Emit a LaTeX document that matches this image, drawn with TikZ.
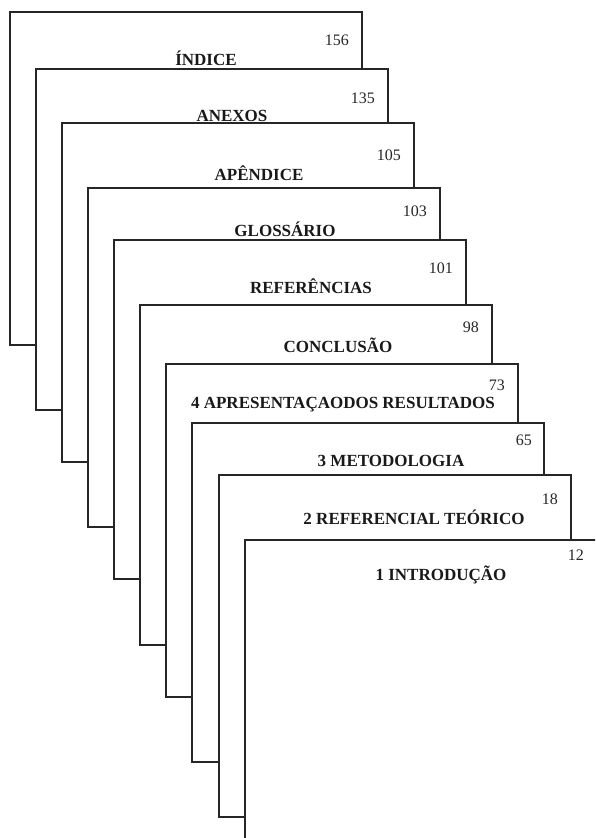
\documentclass[tikz,border=0pt]{standalone}
\usepackage{fontspec}
\setmainfont{Liberation Serif}
\begin{document}
\begin{tikzpicture}[x=1pt,y=-1pt,
  pagebox/.style={draw=black!85, line width=1.2pt, fill=white, anchor=north west,
    inner sep=0pt, outer sep=0pt, minimum width=352pt},
  title/.style={font=\bfseries\fontsize{17}{17}\selectfont, anchor=base, inner sep=0pt, text=black!90},
  pnum/.style={font=\fontsize{16}{16}\selectfont, anchor=base east, inner sep=0pt, text=black!85}]
\clip (0,0) rectangle (595,838);
\fill[white] (0,0) rectangle (595,838);
% page 1
\node[pagebox, minimum height=333pt] (p1) at (10,12) {};
\node[title] (t1) at (206,65) {ÍNDICE};
\node[pnum] (n1) at (349,45) {156};
% page 2
\node[pagebox, minimum height=341pt] (p2) at (36,69) {};
\node[title] (t2) at (232,121) {ANEXOS};
\node[pnum] (n2) at (375,103) {135};
% page 3
\node[pagebox, minimum height=339pt] (p3) at (62,123) {};
\node[title] (t3) at (259,180) {APÊNDICE};
\node[pnum] (n3) at (401,160) {105};
% page 4
\node[pagebox, minimum height=339pt] (p4) at (88,188) {};
\node[title] (t4) at (285,236) {GLOSSÁRIO};
\node[pnum] (n4) at (427,216) {103};
% page 5
\node[pagebox, minimum height=339pt] (p5) at (114,240) {};
\node[title] (t5) at (311,293) {REFERÊNCIAS};
\node[pnum] (n5) at (453,273) {101};
% page 6
\node[pagebox, minimum height=340pt] (p6) at (140,305) {};
\node[title] (t6) at (338,352) {CONCLUSÃO};
\node[pnum] (n6) at (479,332) {98};
% page 7
\node[pagebox, minimum height=333pt] (p7) at (166,364) {};
\node[title] (t7) at (343,408) {4 APRESENTAÇAODOS RESULTADOS};
\node[pnum] (n7) at (505,390) {73};
% page 8
\node[pagebox, minimum height=339pt] (p8) at (192,423) {};
\node[title] (t8) at (391,466) {3 METODOLOGIA};
\node[pnum] (n8) at (532,445) {65};
% page 9
\node[pagebox, minimum height=342pt] (p9) at (219,475) {};
\node[title] (t9) at (414,524) {2 REFERENCIAL TEÓRICO};
\node[pnum] (n9) at (558,504) {18};
% page 10
\node[pagebox, minimum height=340pt] (p10) at (245,540) {};
\node[title] (t10) at (441,580) {1 INTRODUÇÃO};
\node[pnum] (n10) at (584,560) {12};
\end{tikzpicture}
\end{document}
